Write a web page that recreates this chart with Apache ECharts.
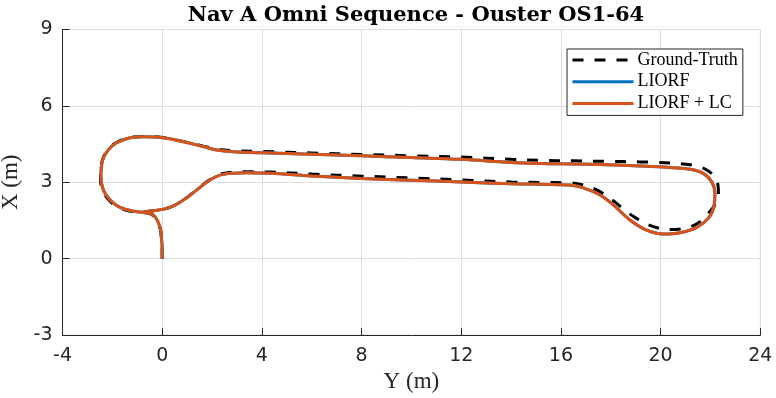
<!DOCTYPE html>
<html>
<head>
<meta charset="utf-8">
<script src="https://cdn.jsdelivr.net/npm/echarts@6/dist/echarts.min.js"></script>
<style>
html,body{margin:0;padding:0;background:#fff;}
#chart{width:776px;height:398px;}
</style>
</head>
<body>
<div id="chart"></div>
<script>
// Horizontal values: Y (m); vertical values: X (m)
const gtY = [0, 0.0, -0.03, -0.1, -0.31, -0.58, -1.04, -1.71, -2.12, -2.39, -2.48, -2.40, -2.17, -1.84, -1.29, -0.76, 0.04, 0.85, 1.65, 2.19, 2.85, 4.0, 6.0, 8.0, 10.0, 12.0, 14.0, 15.17, 16.5, 17.84, 19.17, 19.84, 20.91, 21.5, 21.85, 22.1, 22.3, 22.32, 22.2, 21.98, 21.65, 21.25, 20.8, 20.38, 19.9, 19.44, 19.0, 18.64, 18.2, 17.9, 17.5, 17.03, 16.36, 15.17, 14.0, 12.0, 10.0, 8.0, 6.0, 4.33, 3.39, 2.45, 1.92, 1.38, 0.85, 0.31, -0.36, -0.8];
const gtX = [0, 0.4, 0.8, 1.25, 1.64, 1.79, 1.82, 1.99, 2.28, 2.68, 3.22, 3.87, 4.28, 4.56, 4.76, 4.80, 4.76, 4.60, 4.42, 4.30, 4.24, 4.21, 4.15, 4.09, 4.04, 3.99, 3.90, 3.86, 3.84, 3.82, 3.80, 3.78, 3.72, 3.62, 3.48, 3.28, 2.90, 2.55, 2.15, 1.85, 1.50, 1.27, 1.16, 1.14, 1.20, 1.36, 1.60, 1.84, 2.20, 2.41, 2.67, 2.86, 2.98, 2.99, 3.01, 3.09, 3.17, 3.24, 3.32, 3.40, 3.41, 3.34, 3.11, 2.70, 2.30, 2.01, 1.88, 1.84];

const liorfY = [0, 0.0, -0.03, -0.09, -0.29, -0.55, -1.02, -1.69, -2.09, -2.36, -2.46, -2.39, -2.16, -1.83, -1.29, -0.76, 0.04, 0.85, 1.65, 2.19, 2.85, 4.0, 6.0, 8.0, 10.0, 12.0, 14.0, 15.17, 16.5, 17.84, 19.17, 20.51, 21.18, 21.71, 22.05, 22.18, 22.14, 21.91, 21.45, 20.78, 20.11, 19.44, 18.77, 18.10, 17.57, 16.90, 16.36, 15.17, 14.0, 12.0, 10.0, 8.0, 6.0, 4.33, 3.39, 2.45, 1.92, 1.38, 0.85, 0.31, -0.36, -0.7];
const liorfX = [0, 0.4, 0.8, 1.25, 1.65, 1.80, 1.84, 2.01, 2.30, 2.69, 3.22, 3.87, 4.27, 4.55, 4.75, 4.79, 4.75, 4.59, 4.40, 4.27, 4.20, 4.16, 4.10, 4.04, 3.97, 3.90, 3.78, 3.74, 3.72, 3.69, 3.64, 3.57, 3.51, 3.35, 3.02, 2.56, 2.04, 1.58, 1.23, 1.02, 0.97, 1.12, 1.52, 2.11, 2.50, 2.78, 2.89, 2.92, 2.94, 3.01, 3.08, 3.15, 3.25, 3.35, 3.37, 3.31, 3.09, 2.69, 2.30, 2.01, 1.88, 1.84];

const lcY = [0, 0.0, -0.03, -0.09, -0.29, -0.55, -1.02, -1.69, -2.09, -2.36, -2.46, -2.39, -2.16, -1.83, -1.29, -0.76, 0.04, 0.85, 1.65, 2.19, 2.85, 4.0, 6.0, 8.0, 10.0, 12.0, 14.0, 15.17, 16.5, 17.84, 19.17, 20.51, 21.18, 21.71, 22.05, 22.18, 22.14, 21.91, 21.45, 20.78, 20.11, 19.44, 18.77, 18.10, 17.57, 16.90, 16.36, 15.17, 14.0, 12.0, 10.0, 8.0, 6.0, 4.33, 3.39, 2.45, 1.92, 1.38, 0.85, 0.31, -0.36, -0.7];
const lcX = [0, 0.4, 0.8, 1.25, 1.65, 1.80, 1.84, 2.01, 2.30, 2.69, 3.22, 3.87, 4.27, 4.55, 4.75, 4.79, 4.75, 4.59, 4.40, 4.27, 4.20, 4.16, 4.10, 4.04, 3.97, 3.90, 3.78, 3.74, 3.72, 3.69, 3.64, 3.57, 3.51, 3.35, 3.02, 2.56, 2.04, 1.58, 1.23, 1.02, 0.97, 1.12, 1.52, 2.11, 2.50, 2.78, 2.89, 2.92, 2.94, 3.01, 3.08, 3.15, 3.25, 3.35, 3.37, 3.31, 3.09, 2.69, 2.30, 2.01, 1.88, 1.84];

const seriesNames = ['Ground-Truth', 'LIORF', 'LIORF + LC'];
const xTicks = {min: -4, max: 24, step: 4};
const yTicks = {min: -3, max: 9, step: 3};
const titleText = 'Nav A Omni Sequence - Ouster OS1-64';

function zip(a, b) { return a.map((v, i) => [v, b[i]]); }

const chart = echarts.init(document.getElementById('chart'), null, {renderer: 'canvas'});
const axisText = {color: '#262626', fontFamily: 'DejaVu Sans', fontSize: 19};
chart.setOption({
  animation: false,
  backgroundColor: '#ffffff',
  title: {
    text: titleText,
    left: 411, textAlign: 'center', top: 0,
    textStyle: {fontFamily: 'DejaVu Serif', fontWeight: 'bold', fontSize: 21, color: '#000'}
  },
  grid: {left: 62.5, right: 15.7, top: 29.5, bottom: 63, show: true, borderColor: '#dedede', borderWidth: 1,
         containLabel: false, outerBoundsMode: 'none'},
  legend: {
    orient: 'vertical', left: 567, top: 49,
    padding: [2, 5, 3, 4], itemGap: 3.7, itemWidth: 61, itemHeight: 18,
    backgroundColor: '#fff', borderColor: '#262626', borderWidth: 1, borderRadius: 0,
    itemStyle: {opacity: 0},
    lineStyle: {width: 3},
    textStyle: {fontFamily: 'Liberation Serif', fontSize: 18, color: '#000', padding: [0, 0, 0, -1]},
    data: seriesNames
  },
  xAxis: {
    type: 'value', min: xTicks.min, max: xTicks.max, interval: xTicks.step,
    name: 'Y (m)', nameLocation: 'middle', nameGap: 34,
    nameTextStyle: {fontFamily: 'Liberation Serif', fontSize: 23, color: '#262626'},
    axisLine: {show: true, onZero: false, lineStyle: {color: '#262626', width: 1}},
    axisTick: {show: true, inside: true, length: 7, lineStyle: {color: '#262626'}},
    axisLabel: Object.assign({margin: 12}, axisText),
    splitLine: {show: true, lineStyle: {color: '#dedede', width: 1}}
  },
  yAxis: {
    type: 'value', min: yTicks.min, max: yTicks.max, interval: yTicks.step,
    name: 'X (m)', nameLocation: 'middle', nameGap: 34,
    nameTextStyle: {fontFamily: 'Liberation Serif', fontSize: 23, color: '#262626'},
    axisLine: {show: true, onZero: false, lineStyle: {color: '#262626', width: 1}},
    axisTick: {show: true, inside: true, length: 7, lineStyle: {color: '#262626'}},
    axisLabel: Object.assign({margin: 10}, axisText),
    splitLine: {show: true, lineStyle: {color: '#dedede', width: 1}}
  },
  series: [
    {
      name: seriesNames[0], type: 'line', data: zip(gtY, gtX), smooth: 0.4,
      showSymbol: false, symbol: 'none', color: '#000000',
      lineStyle: {color: '#000000', width: 3, type: [11, 11]}, z: 2
    },
    {
      name: seriesNames[1], type: 'line', data: zip(liorfY, liorfX), smooth: 0.4,
      showSymbol: false, symbol: 'none', color: '#0072BD',
      lineStyle: {color: '#0072BD', width: 3}, z: 3
    },
    {
      name: seriesNames[2], type: 'line', data: zip(lcY, lcX), smooth: 0.4,
      showSymbol: false, symbol: 'none', color: '#D95319',
      lineStyle: {color: '#D95319', width: 3}, z: 4
    }
  ]
});
</script>
</body>
</html>
